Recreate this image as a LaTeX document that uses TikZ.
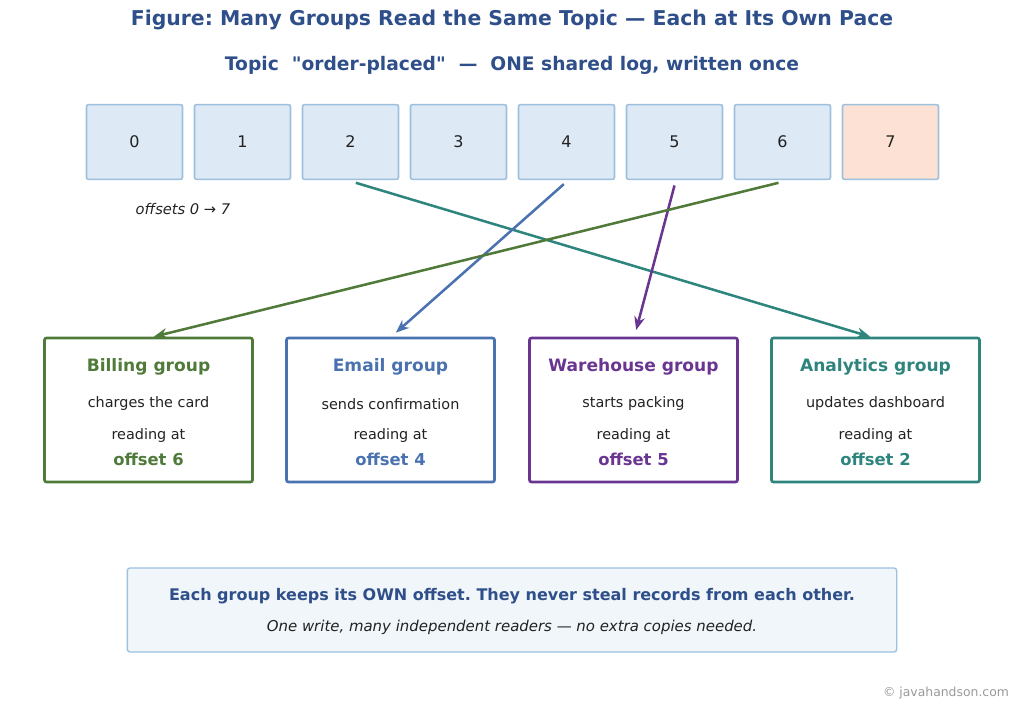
\documentclass[tikz,border=0pt]{standalone}
\usepackage{fontspec}
\setmainfont{DejaVu Sans}
\usetikzlibrary{positioning,arrows.meta}
\frenchspacing
\definecolor{titleblue}{HTML}{2F4F8A}
\definecolor{cellfill}{HTML}{DDE9F5}
\definecolor{celldraw}{HTML}{9DC0DE}
\definecolor{newfill}{HTML}{FCE1D4}
\definecolor{billc}{HTML}{507A3A}
\definecolor{mailc}{HTML}{4A72B0}
\definecolor{housec}{HTML}{6A3590}
\definecolor{statc}{HTML}{2E857E}
\definecolor{notefill}{HTML}{F0F6FA}
\definecolor{textc}{HTML}{222222}
\tikzset{
  cell/.style={draw=celldraw, fill=cellfill, line width=1.2pt, rounded corners=1.5pt,
    minimum width=72pt, minimum height=56pt, font=\fontsize{12}{14}\selectfont, text=textc},
  group/.style={draw=#1, line width=2pt, rounded corners=1.5pt, minimum width=156pt, minimum height=108pt},
  feed/.style={-{Stealth[length=10pt,width=8pt]}, line width=1.9pt, draw=#1}
}
\begin{document}
\begin{tikzpicture}[x=0.75pt, y=-0.75pt]
  \useasboundingbox (0,0) rectangle (1024,716);

  \node[font=\bfseries\fontsize{15.3}{18}\selectfont, text=titleblue] (title) at (512,20)
    {Figure: Many Groups Read the Same Topic — Each at Its Own Pace};
  \node[font=\bfseries\fontsize{14}{16}\selectfont, text=titleblue] (sub) at (512,65)
    {Topic \ \textquotedbl order-placed\textquotedbl\ \ — \ ONE shared log, written once};

  % the log
  \foreach \i in {0,...,6}
    \node[cell] (c\i) at (134.5+108*\i,142) {\i};
  \node[cell, fill=newfill] (c7) at (890.5,142) {7};
  \node[font=\itshape\fontsize{11}{13}\selectfont, text=textc] (range) at (183,209) {offsets 0 → 7};

  % consumer groups
  \node[group=billc] (bill) at (148.5,410) {};
  \node[group=mailc] (mail) at (390.5,410) {};
  \node[group=housec] (house) at (633.5,410) {};
  \node[group=statc] (stat) at (875.5,410) {};

  \foreach \g/\c/\name/\what/\off in {bill/billc/Billing group/charges the card/6,
      mail/mailc/Email group/sends confirmation/4,
      house/housec/Warehouse group/starts packing/5,
      stat/statc/Analytics group/updates dashboard/2} {
    \node[font=\bfseries\fontsize{12.8}{15}\selectfont, text=\c] at ([yshift=-23pt]\g.north) {\name};
    \node[font=\fontsize{10.8}{12}\selectfont, text=textc] at ([yshift=-50.5pt]\g.north) {\what};
    \node[font=\fontsize{10.8}{12}\selectfont, text=textc] at ([yshift=-74pt]\g.north) {reading at};
    \node[font=\bfseries\fontsize{12.3}{14}\selectfont, text=\c] at ([yshift=-92pt]\g.north) {offset \off};
  }

  \draw[feed=statc] ([xshift=4pt,yshift=-2pt]c2.south) -- ([xshift=-4pt]stat.north);
  \draw[feed=mailc] ([xshift=-2pt,yshift=-3pt]c4.south) -- ([xshift=4pt,yshift=3pt]mail.north);
  \draw[feed=housec] ([yshift=-4pt]c5.south) -- ([xshift=2pt,yshift=5pt]house.north);
  \draw[feed=billc] ([xshift=-3pt,yshift=-2pt]c6.south) -- ([xshift=4pt]bill.north);

  % note
  \node[draw=celldraw, fill=notefill, line width=1pt, rounded corners=2pt, minimum width=577pt, minimum height=63pt] (note) at (512,610) {};
  \node[font=\bfseries\fontsize{12}{14}\selectfont, text=titleblue] at (512,596)
    {Each group keeps its OWN offset. They never steal records from each other.};
  \node[font=\itshape\fontsize{11.2}{13}\selectfont, text=textc] at (512,627)
    {One write, many independent readers — no extra copies needed.};

  \node[font=\fontsize{9.3}{11}\selectfont, text=gray!80] (copy) at (946,693) {© javahandson.com};
\end{tikzpicture}
\end{document}
